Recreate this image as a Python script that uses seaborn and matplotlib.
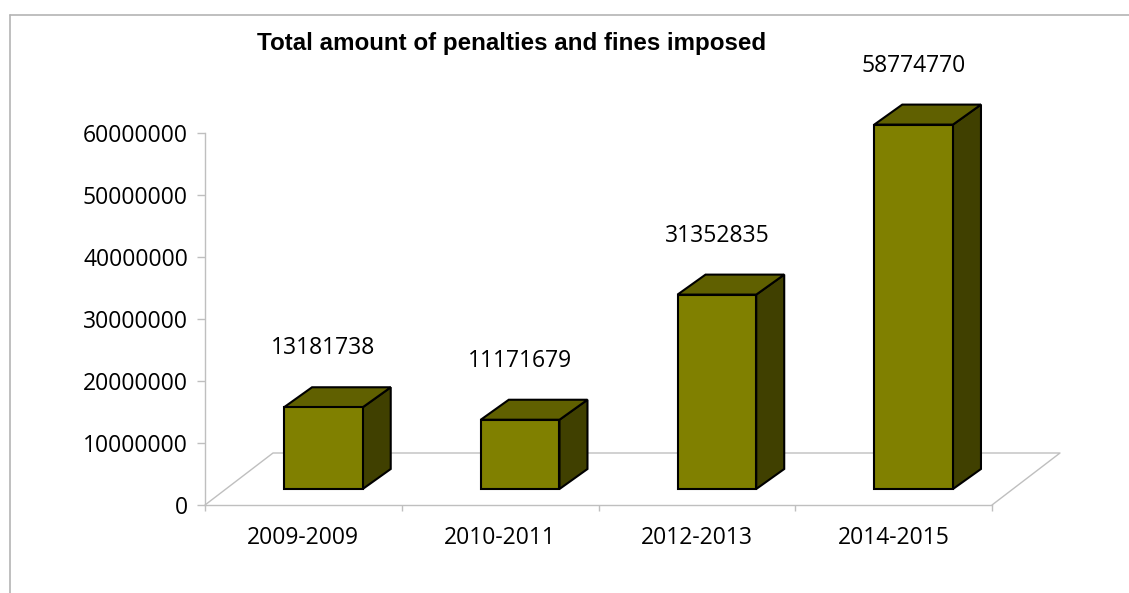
import matplotlib
matplotlib.use("Agg")
import matplotlib.pyplot as plt
import matplotlib.transforms as mtransforms
from matplotlib.patches import Polygon
from matplotlib.lines import Line2D
import seaborn as sns
import pandas as pd

# ---- data ----
categories = ["2009-2009", "2010-2011", "2012-2013", "2014-2015"]
values = [13181738, 11171679, 31352835, 58774770]
y_ticks = [0, 10000000, 20000000, 30000000, 40000000, 50000000, 60000000]
title = "Total amount of penalties and fines imposed"

# ---- style ----
FRONT = "#808000"
TOP = "#606000"
SIDE = "#404000"
GRID = "#bfbfbf"

sns.set_theme(style="white")
plt.rcParams['font.family'] = ['Open Sans', 'DejaVu Sans']
plt.rcParams['text.color'] = 'black'

W, H, DPI = 1129, 593, 100
fig = plt.figure(figsize=(W / DPI, H / DPI), dpi=DPI)
ax_left, ax_right, ax_top, ax_bottom = 205, 992, 133, 505
ax = fig.add_axes([ax_left / W, (H - ax_bottom) / H,
                   (ax_right - ax_left) / W, (ax_bottom - ax_top) / H])

df = pd.DataFrame({"period": categories, "amount": values})
sns.barplot(data=df, x="period", y="amount", color=FRONT, saturation=1,
            width=0.4, edgecolor="black", linewidth=1.5, ax=ax, zorder=3)

ax.set_xlim(-0.5, len(categories) - 0.5)
ax.set_ylim(y_ticks[0], y_ticks[-1])

px_per_x = (ax_right - ax_left) / len(categories)
px_per_y = (ax_bottom - ax_top) / (y_ticks[-1] - y_ticks[0])

# 3D offsets (pixels)
shift = mtransforms.ScaledTranslation(20 / DPI, 16 / DPI, fig.dpi_scale_trans)
tr = ax.transData + shift
ddx, ddy = 28 / px_per_x, 20 / px_per_y
fdx, fdy = 68 / px_per_x, 52 / px_per_y

# floor
x0f, x1f = ax.get_xlim()
floor = Line2D([x0f, x0f + fdx, x1f + fdx, x1f], [0, fdy, fdy, 0],
               color=GRID, lw=1, zorder=1, clip_on=False)
ax.add_line(floor)

bars = list(ax.patches)
for patch in bars:
    patch.set_transform(tr)
    patch.set_clip_on(False)
    x0 = patch.get_x()
    x1 = x0 + patch.get_width()
    h = patch.get_height()
    side = Polygon([(x1, 0), (x1, h), (x1 + ddx, h + ddy), (x1 + ddx, ddy)],
                   closed=True, facecolor=SIDE, edgecolor="black", lw=1.5,
                   transform=tr, clip_on=False, zorder=2.9, joinstyle="miter")
    top = Polygon([(x0, h), (x1, h), (x1 + ddx, h + ddy), (x0 + ddx, h + ddy)],
                  closed=True, facecolor=TOP, edgecolor="black", lw=1.5,
                  transform=tr, clip_on=False, zorder=2.9, joinstyle="miter")
    ax.add_patch(side)
    ax.add_patch(top)

for patch, v in zip(bars, values):
    cx = patch.get_x() + patch.get_width() / 2
    ax.annotate(f"{v}", xy=(cx, v), xycoords=tr, xytext=(0, 59 * 72 / DPI),
                textcoords="offset points", ha="center", va="center",
                fontsize=16.5, color="black", annotation_clip=False)

# axes styling
for s in ["top", "right"]:
    ax.spines[s].set_visible(False)
for s in ["left", "bottom"]:
    ax.spines[s].set_color(GRID)
    ax.spines[s].set_linewidth(1)

ax.set_yticks(y_ticks)
ax.set_yticklabels([str(v) for v in y_ticks])
ax.set_xticks([i - 0.5 for i in range(len(categories) + 1)])
ax.set_xticklabels([])
ax.set_xticks(range(len(categories)), minor=True)
ax.set_xticklabels(categories, minor=True)
ax.tick_params(axis="y", left=True, direction="out", length=8 * 72 / DPI,
               width=1, color=GRID, labelsize=16.5, pad=9 * 72 / DPI,
               labelcolor="black")
ax.tick_params(axis="x", which="major", bottom=True, direction="out",
               length=6 * 72 / DPI, width=1, color=GRID)
ax.tick_params(axis="x", which="minor", bottom=True, length=0, labelsize=16.5,
               pad=15, labelcolor="black")
ax.set_xlabel("")
ax.set_ylabel("")
ax.patch.set_alpha(0)

fig.text(512 / W, 1 - 50 / H, title, ha="center", va="baseline", color="black",
         fontsize=17.4, fontweight="bold", family=["Liberation Sans", "DejaVu Sans"])

# chart border
fig.add_artist(Line2D([10 / W, 10 / W], [0, 1 - 15 / H], transform=fig.transFigure,
                      color="#b4b4b4", lw=1.2))
fig.add_artist(Line2D([10 / W, 1], [1 - 15 / H, 1 - 15 / H], transform=fig.transFigure,
                      color="#b4b4b4", lw=1.2))

fig.savefig("out.png", dpi=DPI)
